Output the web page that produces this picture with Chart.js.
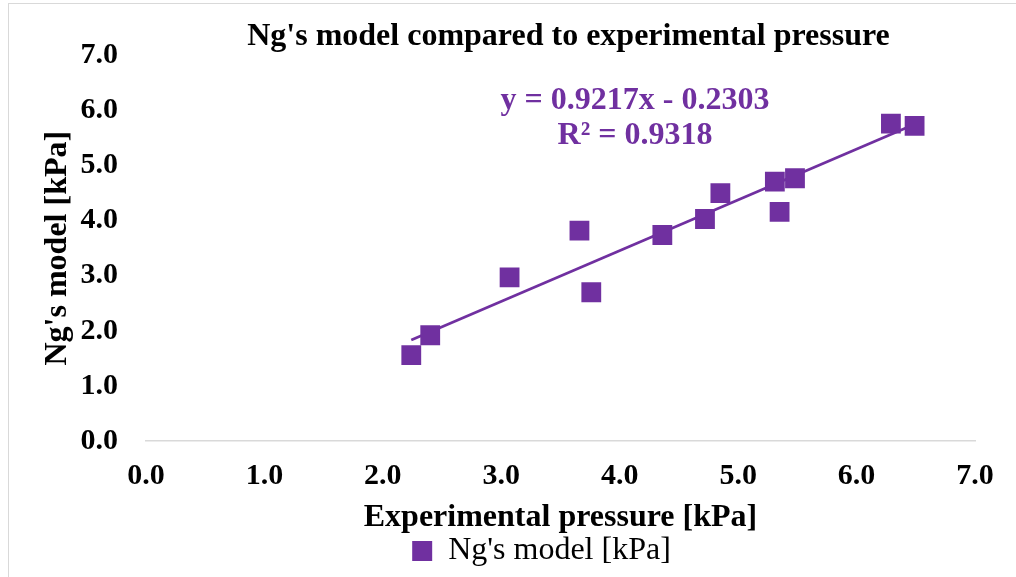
<!DOCTYPE html>
<html><head><meta charset="utf-8">
<script src="https://cdn.jsdelivr.net/npm/chart.js@4.4.1/dist/chart.umd.min.js"></script>
<style>
html,body{margin:0;padding:0;background:#fff;}
#wrap{position:relative;width:1016px;height:577px;overflow:hidden;background:#fff;}
#frame{position:absolute;left:8px;top:3px;width:1100px;height:700px;border-left:1px solid #d9d9d9;border-top:1px solid #d9d9d9;}
canvas{position:absolute;left:0;top:0;}
</style></head><body>
<div id="wrap"><div id="frame"></div><canvas id="c" width="1016" height="577"></canvas></div>
<script>
// Data
const experimentalPressure = [2.24, 2.40, 3.07, 3.66, 3.76, 4.36, 4.72, 4.85, 5.31, 5.35, 5.48, 6.29, 6.49];
const ngModel            = [1.56, 1.92, 2.97, 3.82, 2.70, 3.74, 4.03, 4.50, 4.71, 4.16, 4.77, 5.76, 5.72];
const axisTicks = [0, 1, 2, 3, 4, 5, 6, 7];
const trendSlope = 0.9217;
const trendIntercept = -0.2303;
const trendLabel = ['y = 0.9217x - 0.2303', 'R\u00b2 = 0.9318'];

const PURPLE = '#7030A0';
const FONT = '"Liberation Serif", "Times New Roman", serif';

const points = experimentalPressure.map((x, i) => ({x: x, y: ngModel[i]}));
const xMin = Math.min(...experimentalPressure), xMax = Math.max(...experimentalPressure);
const trend = [xMin, xMax].map(x => ({x: x, y: trendSlope * x + trendIntercept}));

const eqPlugin = {
  id: 'eq',
  afterLayout(chart) {
    // horizontal placement of title and legend as in the reference
    if (chart.titleBlock) { chart.titleBlock.left += 76; chart.titleBlock.right += 76; }
    if (chart.legend) { chart.legend.left += 49; chart.legend.right += 49; }
  },
  afterDatasetsDraw(chart) {
    const ctx = chart.ctx;
    ctx.save();
    ctx.fillStyle = PURPLE;
    ctx.font = 'bold 32px ' + FONT;
    ctx.textAlign = 'center';
    ctx.textBaseline = 'middle';
    ctx.fillText(trendLabel[0], 635, 101);
    ctx.fillText(trendLabel[1], 635, 136);
    ctx.restore();
  }
};

new Chart(document.getElementById('c'), {
  type: 'scatter',
  data: {
    datasets: [
      {
        label: "Ng's model [kPa]",
        data: points,
        backgroundColor: PURPLE,
        borderColor: PURPLE,
        pointStyle: 'rect',
        pointRadius: 14,
        pointHoverRadius: 14,
        borderWidth: 0,
        order: 1
      },
      {
        label: 'trend',
        type: 'line',
        data: trend,
        borderColor: PURPLE,
        borderWidth: 2.75,
        pointRadius: 0,
        fill: false,
        order: 2
      }
    ]
  },
  options: {
    responsive: false,
    animation: false,
    layout: {padding: {left: 10, right: 41, top: 0, bottom: 0}},
    plugins: {
      title: {
        display: true,
        text: "Ng's model compared to experimental pressure",
        color: '#000',
        font: {family: FONT, size: 32, weight: 'bold'},
        padding: {top: 18, bottom: -1}
      },
      legend: {
        position: 'bottom',
        labels: {
          filter: item => item.datasetIndex === 0,
          color: '#000',
          font: {family: FONT, size: 32},
          boxWidth: 20,
          boxHeight: 20,
          padding: 0
        }
      },
      tooltip: {enabled: false}
    },
    scales: {
      x: {
        type: 'linear',
        min: 0, max: 7,
        afterBuildTicks: s => { s.ticks = axisTicks.map(v => ({value: v})); },
        afterFit: s => { s.height = 94; },
        ticks: {
          color: '#000',
          font: {family: FONT, size: 30, weight: 'bold'},
          padding: 17,
          callback: v => Number(v).toFixed(1),
          maxRotation: 0
        },
        grid: {display: false, drawTicks: false},
        border: {display: true, color: '#d9d9d9', width: 1.5},
        title: {
          display: true,
          text: 'Experimental pressure [kPa]',
          color: '#000',
          font: {family: FONT, size: 32, weight: 'bold'},
          padding: {top: 0, bottom: -2}
        }
      },
      y: {
        type: 'linear',
        min: 0, max: 7,
        afterBuildTicks: s => { s.ticks = axisTicks.map(v => ({value: v})); },
        afterFit: s => { s.width = 136; },
        ticks: {
          color: '#000',
          font: {family: FONT, size: 30, weight: 'bold'},
          padding: 28,
          callback: v => Number(v).toFixed(1)
        },
        grid: {display: false, drawTicks: false},
        border: {display: false},
        title: {
          display: true,
          text: "Ng's model [kPa]",
          color: '#000',
          font: {family: FONT, size: 32, weight: 'bold'},
          padding: {top: 29, bottom: 0}
        }
      }
    }
  },
  plugins: [eqPlugin]
});
</script>
</body></html>
